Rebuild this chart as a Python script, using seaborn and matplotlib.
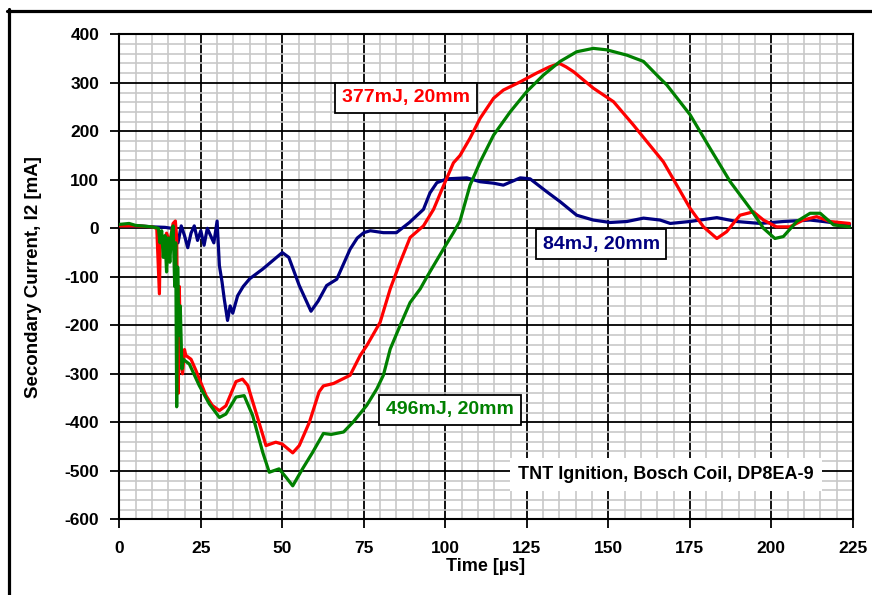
import matplotlib
matplotlib.use("Agg")
import matplotlib.pyplot as plt
from matplotlib.lines import Line2D
from matplotlib.ticker import MultipleLocator
import pandas as pd
import seaborn as sns

# Secondary current traces, time in microseconds, current in mA
t_84 = [0, 3, 6, 10, 14, 16, 17, 18, 19, 20, 21, 22, 23, 24, 25, 26, 27, 28, 29, 30,
        30.7, 31.5, 32.2, 33.2, 34, 34.8, 36.3, 38, 40, 44, 47, 50, 52, 55.2, 58.8, 61,
        63.6, 66.7, 70.8, 73, 75, 77, 81, 85, 89, 93.3, 95.3, 97.4, 100.5, 106.6, 110.7,
        114.8, 117.8, 123, 126, 131, 135.2, 140.3, 145.4, 150.6, 155.7, 160.8, 165.9, 169,
        175, 183.3, 189.4, 196.6, 203.7, 211.9, 216, 224]
i_84 = [8, 5, 5, 3, 2, 0, -5, -30, 5, -15, -40, -10, 5, -25, -5, -35, 0, -15, -30, 15,
        -77, -110, -146, -190, -160, -175, -139, -120, -104, -84, -67, -50, -60, -118, -171, -150,
        -118, -105, -43, -20, -9, -5, -9, -9, 12, 39, 73, 94, 102, 104, 96,
        93, 89, 104, 102, 76, 55, 27, 17, 12, 14, 21, 17, 10,
        14, 22, 14, 10, 14, 17, 14, 7]

t_377 = [0, 5, 10, 11.5, 12.3, 12.6, 13.5, 14.5, 15.5, 16.5, 17.2, 17.6, 18.1, 18.4, 18.8,
         19.4, 20, 20.4, 22, 23.5, 26.6, 28.5, 30.7, 32.7, 35.8, 37.8, 39.4, 41.9, 45, 48,
         50, 53.2, 55.2, 58.3, 61.3, 62.6, 65.7, 70.8, 73.9, 75.9, 80, 83.1, 86.1, 89.2,
         93.3, 96.4, 99.4, 102.5, 104.5, 107.6, 110.7, 114.8, 117.8, 123, 128, 132, 135,
         137, 139.3, 145.4, 151.6, 157.7, 161.8, 166.9, 171, 175.1, 179.2, 183.3, 186.3,
         190.4, 194.5, 197.6, 201.6, 205.7, 209.8, 213.9, 218, 224]
i_377 = [5, 5, 3, 0, -135, -10, -40, -10, -30, 10, 15, -20, -340, -120, -270,
         -300, -250, -262, -270, -293, -345, -365, -376, -366, -316, -311, -324, -379, -448, -441,
         -445, -463, -448, -400, -337, -325, -320, -303, -262, -242, -194, -125, -71, -19,
         5, 39, 87, 135, 150, 186, 227, 268, 285, 302, 320, 333, 340,
         333, 323, 289, 261, 213, 179, 137, 89, 41, 3, -21, -7,
         27, 34, 17, 3, 3, 17, 24, 14, 10]

t_496 = [0, 3, 5, 10, 12, 12.5, 13, 13.5, 14, 14.5, 15, 15.5, 16, 16.5, 17, 17.3, 17.6,
         17.9, 18.3, 18.7, 19.2, 19.6, 21.5, 24.5, 27.6, 30.7, 32.7, 35.8, 38.3, 40.9, 44,
         46, 49, 51.1, 53.2, 56.2, 59.3, 62.6, 65, 68.8, 71.8, 75.9, 79, 81, 83.1, 86.1,
         89.2, 92.3, 94.3, 96.4, 99.4, 102.5, 104.5, 107.6, 110.7, 114.8, 119.9, 125, 130.1,
         135.2, 140.3, 145.4, 149.5, 155.7, 160.8, 165.9, 167.9, 175.1, 181.2, 187.4, 193.5,
         197.6, 201.1, 203.7, 207.8, 211.9, 215, 219.1, 224]
i_496 = [8, 10, 6, 3, 0, -30, -5, -60, -15, -90, -20, -70, -10, 5, -120, -30, -368,
         -80, -220, -160, -290, -270, -280, -324, -362, -390, -383, -348, -345, -386, -462,
         -503, -496, -513, -531, -496, -462, -423, -425, -420, -399, -365, -331, -303, -249, -201,
         -153, -125, -101, -77, -43, -9, 15, 89, 137, 192, 240, 282, 316,
         344, 364, 371, 368, 357, 344, 309, 296, 234, 165, 96, 41,
         0, -21, -17, 14, 31, 31, 7, 3]

series_names = ["84mJ, 20mm", "377mJ, 20mm", "496mJ, 20mm"]
series_colors = ["#000080", "#ff0000", "#008000"]

x_ticks = [0, 25, 50, 75, 100, 125, 150, 175, 200, 225]
y_ticks = [-600, -500, -400, -300, -200, -100, 0, 100, 200, 300, 400]

df = pd.concat([
    pd.DataFrame({"time": t_84, "current": i_84, "series": series_names[0]}),
    pd.DataFrame({"time": t_377, "current": i_377, "series": series_names[1]}),
    pd.DataFrame({"time": t_496, "current": i_496, "series": series_names[2]}),
], ignore_index=True)

sns.set_theme(style="white")
plt.rcParams["font.family"] = ["Liberation Sans", "DejaVu Sans"]
plt.rcParams["font.weight"] = "bold"
plt.rcParams["text.color"] = "black"
plt.rcParams["axes.labelcolor"] = "black"
plt.rcParams["xtick.color"] = "black"
plt.rcParams["ytick.color"] = "black"
plt.rcParams["axes.unicode_minus"] = False

W, H = 872, 595
fig = plt.figure(figsize=(W / 100, H / 100), dpi=100)
ax = fig.add_axes([119.3 / W, 1 - 519.3 / H, (852.8 - 119.3) / W, (519.3 - 34.3) / H])

sns.lineplot(data=df, x="time", y="current", hue="series", hue_order=series_names,
             palette=dict(zip(series_names, series_colors)), sort=False, estimator=None,
             linewidth=2.3, legend=False, ax=ax, zorder=3)

ax.set_xlim(0, 225)
ax.set_ylim(-600, 400)
ax.set_xticks(x_ticks)
ax.set_yticks(y_ticks)
ax.xaxis.set_minor_locator(MultipleLocator(5))
ax.yaxis.set_minor_locator(MultipleLocator(20))
ax.set_axisbelow(True)
ax.grid(which="minor", color="#c8c8c8", linewidth=1.2)
ax.grid(which="major", color="black", linewidth=1.3)
ax.tick_params(which="major", direction="out", length=6.5, width=1.3, labelsize=12.5,
               bottom=True, left=True)
ax.tick_params(axis="y", which="major", pad=8)
ax.tick_params(axis="x", which="major", pad=9)
ax.tick_params(which="minor", length=0)
for lbl in ax.get_xticklabels() + ax.get_yticklabels():
    lbl.set_fontweight("bold")
for sp in ax.spines.values():
    sp.set_color("black")
    sp.set_linewidth(1.5)

ax.set_xlabel("Time [µs]", fontsize=13, fontweight="bold")
ax.set_ylabel("Secondary Current, I2 [mA]", fontsize=13.5, fontweight="bold")
ax.xaxis.set_label_coords(0.5, -0.08)
ax.yaxis.set_label_coords(-0.105, 0.5)

box = dict(boxstyle="square,pad=0.35", fc="white", ec="black", lw=1.3)
ax.text(87.9, 268.7, series_names[1], color=series_colors[1], fontsize=14,
        fontweight="bold", ha="center", va="center", bbox=box, zorder=5)
ax.text(147.8, -32.4, series_names[0], color=series_colors[0], fontsize=14,
        fontweight="bold", ha="center", va="center", bbox=box, zorder=5)
ax.text(101.4, -374.6, series_names[2], color=series_colors[2], fontsize=14,
        fontweight="bold", ha="center", va="center", bbox=box, zorder=5)
ax.text(167.7, -507, "TNT Ignition, Bosch Coil, DP8EA-9", color="black", fontsize=13,
        fontweight="bold", ha="center", va="center",
        bbox=dict(boxstyle="square,pad=0.45", fc="white", ec="none"), zorder=5)

# outer frame along the top and left edges
fig.add_artist(Line2D([7 / W, 1], [1 - 10.7 / H] * 2, transform=fig.transFigure,
                      color="black", linewidth=2.3))
fig.add_artist(Line2D([9 / W] * 2, [0, 1 - 9.3 / H], transform=fig.transFigure,
                      color="black", linewidth=2.3))

fig.savefig("out.png", dpi=100)
